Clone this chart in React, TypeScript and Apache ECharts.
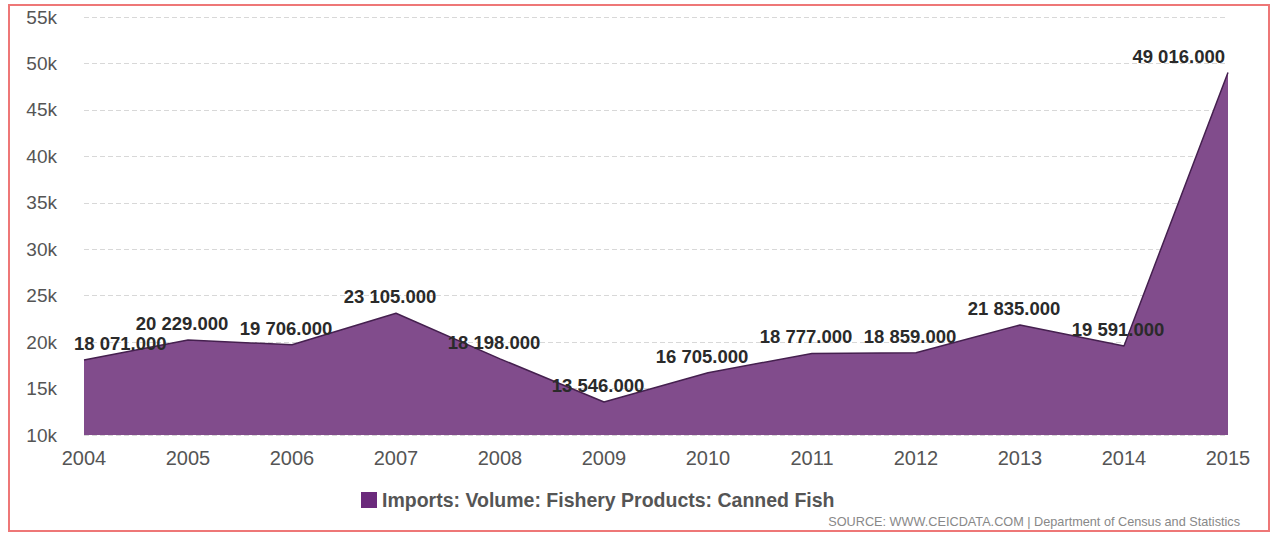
import React, { useEffect, useRef } from "react";
import * as echarts from "echarts";

const years = ["2004", "2005", "2006", "2007", "2008", "2009", "2010", "2011", "2012", "2013", "2014", "2015"];
const cannedFish = [18071, 20229, 19706, 23105, 18198, 13546, 16705, 18777, 18859, 21835, 19591, 49016];
const seriesName = "Imports: Volume: Fishery Products: Canned Fish";
const sourceText = "SOURCE: WWW.CEICDATA.COM | Department of Census and Statistics";

function fmt(v: number) {
  const s = Math.round(v).toString().replace(/\B(?=(\d{3})+(?!\d))/g, " ");
  return s + ".000";
}

export default function App() {
  const ref = useRef<HTMLDivElement>(null);
  useEffect(() => {
    if (!ref.current) return;
    const chart = echarts.init(ref.current, null, { renderer: "svg" });
    const last = cannedFish.length - 1;
    chart.setOption({
      animation: false,
      backgroundColor: "#ffffff",
      textStyle: { fontFamily: "Liberation Sans, Arial, sans-serif" },
      grid: { left: 84, right: 50, top: 17, bottom: 101, containLabel: false },
      legend: {
        show: true,
        left: 356,
        top: 485,
        itemWidth: 16,
        itemHeight: 16,
        icon: "rect",
        itemGap: 10,
        textStyle: { color: "#555", fontSize: 19.5, fontWeight: "bold", fontFamily: "Liberation Sans, Arial, sans-serif" },
        data: [{ name: seriesName, itemStyle: { color: "#6b2a7c" } }],
      },
      xAxis: {
        type: "category",
        data: years,
        boundaryGap: false,
        axisLine: { show: false },
        axisTick: { show: false },
        axisLabel: { color: "#555", fontSize: 20, margin: 13 },
        splitLine: { show: false },
      },
      yAxis: {
        type: "value",
        min: 10000,
        max: 55000,
        interval: 5000,
        axisLine: { show: false },
        axisTick: { show: false },
        axisLabel: {
          color: "#555",
          fontSize: 19,
          margin: 27,
          formatter: (v: number) => v / 1000 + "k",
        },
        splitLine: { show: true, lineStyle: { color: "#d8d8d8", type: [5, 3], width: 1 } },
      },
      series: [
        {
          name: seriesName,
          type: "line",
          data: cannedFish.map((v, i) => {
            const d: any = { value: v };
            if (i === 0) d.label = { align: "left", offset: [-10, 0] };
            else if (i === last) d.label = { align: "right", offset: [-3, 0] };
            else d.label = { offset: [-6, 0] };
            return d;
          }),
          symbol: "circle",
          symbolSize: 0,
          showSymbol: true,
          color: "#6b2a7c",
          lineStyle: { color: "#45204f", width: 1.5 },
          areaStyle: { color: "#814c8c", opacity: 1 },
          label: {
            show: true,
            position: "top",
            distance: 7,
            color: "#2a2a2a",
            fontSize: 18.5,
            fontWeight: "bold",
            formatter: (p: any) => fmt(p.value),
          },
        },
      ],
      graphic: [
        {
          type: "rect",
          shape: { x: 9, y: 5, width: 1260, height: 526 },
          style: { fill: "none", stroke: "#ee7777", lineWidth: 2 },
          silent: true,
        },
        {
          type: "text",
          right: 38,
          top: 515,
          style: {
            text: sourceText,
            fill: "#888",
            fontSize: 12.7,
            fontFamily: "Liberation Sans, Arial, sans-serif",
          },
        },
      ],
    });
    return () => chart.dispose();
  }, []);
  return <div ref={ref} style={{ width: 1278, height: 536, position: "absolute", left: 0, top: 0 }} />;
}
